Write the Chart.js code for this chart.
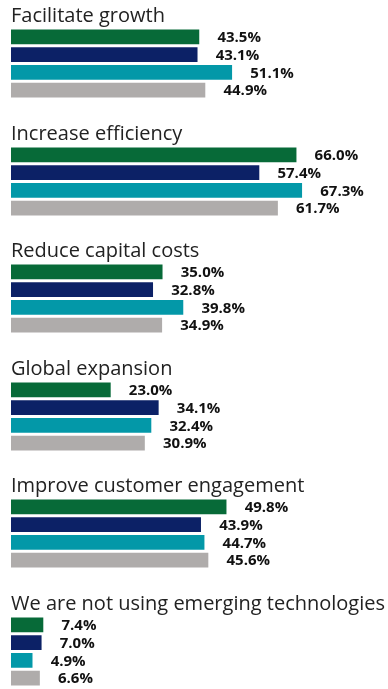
<!DOCTYPE html>
<html>
<head>
<meta charset="utf-8">
<script src="https://cdn.jsdelivr.net/npm/chart.js@4"></script>
<style>
    html, body { margin: 0; padding: 0; background: #fff; }
    #wrap { position: relative; width: 388px; height: 689px; overflow: hidden; }
    .group { position: absolute; left: 0; width: 388px; height: 118px; }
</style>
</head>
<body>
<div id="wrap"></div>
<script>
const categories = [
    'Facilitate growth',
    'Increase efficiency',
    'Reduce capital costs',
    'Global expansion',
    'Improve customer engagement',
    'We are not using emerging technologies'
];
const series1 = [43.5, 66.0, 35.0, 23.0, 49.8, 7.4];
const series2 = [43.1, 57.4, 32.8, 34.1, 43.9, 7.0];
const series3 = [51.1, 67.3, 39.8, 32.4, 44.7, 4.9];
const series4 = [44.9, 61.7, 34.9, 30.9, 45.6, 6.6];
const seriesColors = ['#076a38', '#0c2166', '#0398a8', '#afacab'];

const GROUP_STEP = 117.5;
const X_MAX = 87;

// wartości przy końcu słupków
const etykietyWartosci = {
    id: 'etykietyWartosci',
    afterDatasetsDraw(chart) {
        const ctx = chart.ctx;
        const meta = chart.getDatasetMeta(0);
        ctx.save();
        ctx.font = 'bold 15px "Open Sans"';
        ctx.fillStyle = '#111';
        ctx.textAlign = 'left';
        ctx.textBaseline = 'middle';
        meta.data.forEach((bar, i) => {
            const v = chart.data.datasets[0].data[i];
            ctx.fillText(v.toFixed(1) + '%', bar.x + 18.5, bar.y + 1);
        });
        ctx.restore();
    }
};

const wrap = document.getElementById('wrap');
wrap.innerHTML = categories.map((c, i) => `
    <div class="group" style="top:${Math.round(i * GROUP_STEP)}px">
        <canvas data-idx="${i}"></canvas>
    </div>
`).join('');

document.querySelectorAll('.group canvas').forEach(canvas => {
    const i = Number(canvas.dataset.idx);
    new Chart(canvas.getContext('2d'), {
        type: 'bar',
        data: {
            labels: ['1', '2', '3', '4'],
            datasets: [{
                data: [series1[i], series2[i], series3[i], series4[i]],
                backgroundColor: seriesColors,
                barThickness: 14,
                borderWidth: 0
            }]
        },
        options: {
            indexAxis: 'y',
            responsive: true,
            maintainAspectRatio: false,
            animation: false,
            // 4.32 px na punkt procentowy
            layout: { padding: { left: 11, right: 388 - 11 - X_MAX * 4.32, top: 0, bottom: 19 } },
            plugins: {
                legend: { display: false },
                tooltip: { enabled: false },
                title: {
                    display: true,
                    text: categories[i],
                    align: 'start',
                    color: '#222',
                    font: { family: '"Open Sans"', size: 20, weight: 'normal', lineHeight: 1.2 },
                    padding: { top: 4, bottom: 0 }
                }
            },
            scales: {
                x: { display: false, min: 0, max: X_MAX },
                y: { display: false }
            }
        },
        plugins: [etykietyWartosci]
    });
});
</script>
</body>
</html>
